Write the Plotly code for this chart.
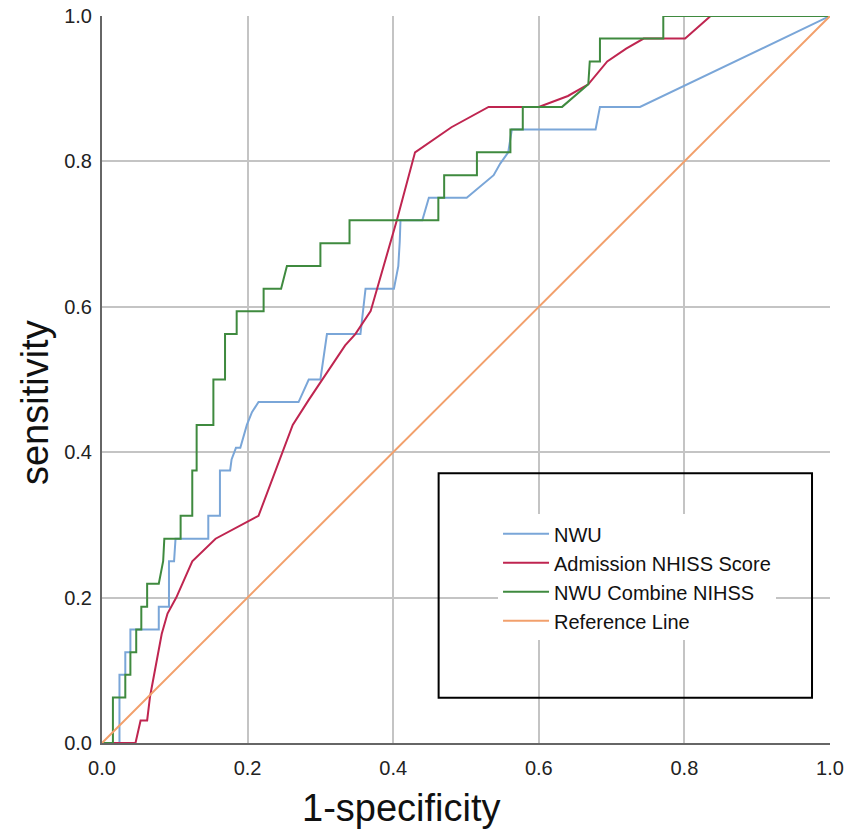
import plotly.graph_objects as go

# --- ROC curve points (1-specificity, sensitivity) ---
nwu_fpr = [0, 0.024, 0.024, 0.032, 0.032, 0.039, 0.039, 0.078, 0.078, 0.092, 0.092, 0.099, 0.101,
           0.146, 0.146, 0.162, 0.162, 0.176, 0.178, 0.184, 0.190, 0.199, 0.206, 0.215, 0.270, 0.284,
           0.300, 0.304, 0.309, 0.355, 0.362, 0.401, 0.407, 0.409, 0.410, 0.440, 0.449, 0.501, 0.538,
           0.547, 0.558, 0.563, 0.678, 0.684, 0.739, 1.0]
nwu_tpr = [0, 0, 0.094, 0.094, 0.125, 0.125, 0.156, 0.156, 0.1875, 0.1875, 0.25, 0.25, 0.281,
           0.281, 0.3125, 0.3125, 0.375, 0.375, 0.39, 0.406, 0.406, 0.4375, 0.455, 0.469, 0.469, 0.5,
           0.5, 0.531, 0.5625, 0.5625, 0.625, 0.625, 0.656, 0.69, 0.719, 0.719, 0.75, 0.75, 0.781,
           0.797, 0.8125, 0.844, 0.844, 0.875, 0.875, 1.0]

nihss_fpr = [0, 0.046, 0.053, 0.062, 0.066, 0.075, 0.082, 0.090, 0.102, 0.124, 0.156, 0.215, 0.262,
             0.284, 0.334, 0.348, 0.369, 0.405, 0.430, 0.480, 0.531, 0.600, 0.640, 0.668, 0.694,
             0.720, 0.744, 0.801, 0.836, 1.0]
nihss_tpr = [0, 0, 0.031, 0.031, 0.064, 0.11, 0.15, 0.178, 0.20, 0.25, 0.281, 0.3125, 0.4375,
             0.472, 0.547, 0.5625, 0.594, 0.719, 0.8125, 0.847, 0.875, 0.875, 0.89, 0.906, 0.9375,
             0.955, 0.969, 0.969, 1.0, 1.0]

comb_fpr = [0, 0.015, 0.015, 0.032, 0.032, 0.039, 0.039, 0.047, 0.047, 0.054, 0.054, 0.062, 0.062,
            0.078, 0.084, 0.0856, 0.108, 0.108, 0.124, 0.124, 0.130, 0.130, 0.153, 0.153, 0.169,
            0.169, 0.185, 0.185, 0.222, 0.222, 0.246, 0.254, 0.300, 0.300, 0.340, 0.340, 0.462,
            0.462, 0.470, 0.470, 0.515, 0.515, 0.561, 0.561, 0.578, 0.578, 0.632, 0.668, 0.670,
            0.684, 0.684, 0.771, 0.771, 1.0]
comb_tpr = [0, 0, 0.0625, 0.0625, 0.094, 0.094, 0.125, 0.125, 0.156, 0.156, 0.1875, 0.1875, 0.219,
            0.219, 0.25, 0.281, 0.281, 0.3125, 0.3125, 0.375, 0.375, 0.4375, 0.4375, 0.5, 0.5,
            0.5625, 0.5625, 0.594, 0.594, 0.625, 0.625, 0.656, 0.656, 0.6875, 0.6875, 0.719, 0.719,
            0.75, 0.75, 0.781, 0.781, 0.8125, 0.8125, 0.844, 0.844, 0.875, 0.875, 0.906, 0.9375,
            0.9375, 0.969, 0.969, 1.0, 1.0]

ref_x = [0, 1]
ref_y = [0, 1]

tick_vals = [0, 0.2, 0.4, 0.6, 0.8, 1.0]
tick_text = ["0.0", "0.2", "0.4", "0.6", "0.8", "1.0"]

FONT = "Arial, 'Liberation Sans', sans-serif"

series = [
    ("NWU", nwu_fpr, nwu_tpr, "#7aa6d8"),
    ("Admission NHISS Score", nihss_fpr, nihss_tpr, "#bf2550"),
    ("NWU Combine NIHSS", comb_fpr, comb_tpr, "#3f8a3f"),
    ("Reference Line", ref_x, ref_y, "#f2a06c"),
]

fig = go.Figure()
for name, xs, ys, col in series:
    fig.add_trace(go.Scatter(x=xs, y=ys, mode="lines", name=name,
                             line=dict(color=col, width=2)))

axis_style = dict(
    range=[0, 1],
    tickvals=tick_vals,
    ticktext=tick_text,
    tickfont=dict(family=FONT, size=20, color="#222"),
    showgrid=True, gridcolor="#c4c4c4", gridwidth=2,
    showline=True, linecolor="#666", linewidth=2,
    zeroline=False, ticks="", automargin=False,
    ticklabeloverflow="allow",
)

fig.update_layout(
    width=851, height=836,
    margin=dict(l=102, r=21, t=16, b=93),
    paper_bgcolor="white", plot_bgcolor="white",
    xaxis=dict(**axis_style, ticklabelstandoff=6),
    yaxis=dict(**axis_style, ticklabelstandoff=4),
    legend=dict(x=0.544, y=0.3145, xanchor="left", yanchor="top",
                bgcolor="white", borderwidth=0, itemwidth=46,
                font=dict(family=FONT, size=20, color="#111"),
                tracegroupgap=0),
    shapes=[
        # white inner panel of the legend (hides gridlines) and the outer black frame
        dict(type="rect", xref="paper", yref="paper", layer="between",
             x0=0.499, x1=0.968, y0=0.112, y1=0.317,
             line=dict(width=0), fillcolor="white"),
        dict(type="rect", xref="paper", yref="paper",
             x0=0.4624, x1=0.9753, y0=0.0623, y1=0.371,
             line=dict(color="black", width=2), fillcolor="rgba(0,0,0,0)"),
    ],
    annotations=[
        dict(text="1-specificity", xref="paper", yref="paper", x=0.411, y=-0.089,
             xanchor="center", yanchor="middle", showarrow=False,
             font=dict(family=FONT, size=38, color="#111")),
        dict(text="sensitivity", xref="paper", yref="paper", x=-0.093, y=0.468,
             xanchor="center", yanchor="middle", textangle=-90, showarrow=False,
             font=dict(family=FONT, size=38, color="#111")),
    ],
)

# drop the browser's default 8px body margin so the figure fills the window
fig.write_html("out.html", config={"displayModeBar": False},
               post_script="document.body.style.margin='0';")
